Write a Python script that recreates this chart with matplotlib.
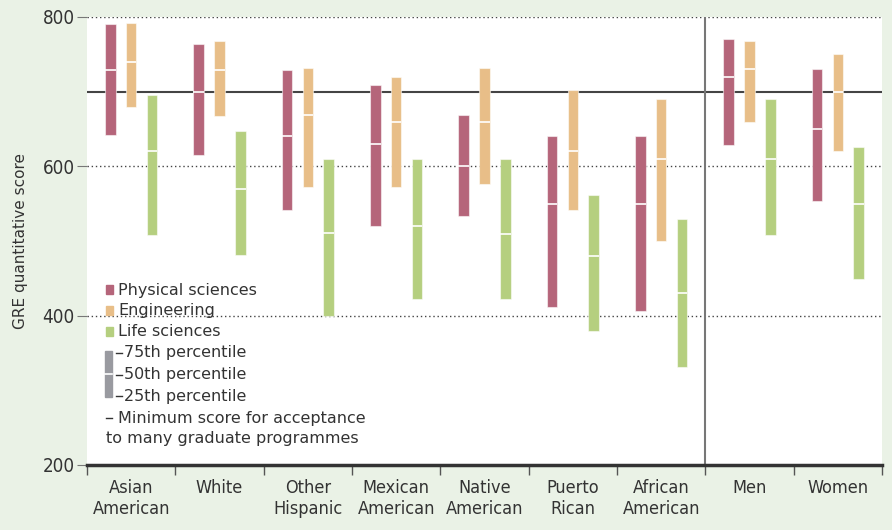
import matplotlib
matplotlib.use("Agg")
import matplotlib.pyplot as plt
from matplotlib import font_manager
from matplotlib.patches import Rectangle
import numpy as np

# Data (25th, 50th, 75th percentiles)
groups = ["Asian\nAmerican", "White", "Other\nHispanic", "Mexican\nAmerican",
          "Native\nAmerican", "Puerto\nRican", "African\nAmerican", "Men", "Women"]

phys_p25 = [642, 615, 541, 520, 533, 411, 406, 628, 553]
phys_p50 = [729, 700, 640, 630, 600, 550, 550, 720, 650]
phys_p75 = [790, 764, 729, 709, 669, 641, 641, 770, 730]

eng_p25 = [680, 667, 572, 572, 577, 541, 500, 660, 620]
eng_p50 = [740, 729, 669, 659, 660, 620, 610, 730, 700]
eng_p75 = [792, 768, 732, 720, 732, 702, 690, 768, 750]

life_p25 = [508, 481, 400, 422, 422, 379, 331, 508, 449]
life_p50 = [620, 570, 511, 520, 510, 480, 430, 610, 550]
life_p75 = [695, 647, 610, 610, 610, 561, 530, 690, 626]

min_score = 700

series = [
    ("Physical sciences", "#b5657a", phys_p25, phys_p50, phys_p75),
    ("Engineering", "#e8be88", eng_p25, eng_p50, eng_p75),
    ("Life sciences", "#b5cf7f", life_p25, life_p50, life_p75),
]

# look for an upright condensed face for the axis labels
narrow = None
cands = [f for f in font_manager.fontManager.ttflist
         if f.style == "normal" and f.weight in (400, "normal", "regular")
         and ("narrow" in f.name.lower() or "condensed" in f.name.lower()
              or f.stretch in ("condensed", "semi-condensed"))]
for pref in ["Liberation Sans Narrow", "DejaVu Sans Condensed"]:
    for f in cands:
        if f.name == pref:
            narrow = font_manager.FontProperties(fname=f.fname)
            break
    if narrow is not None:
        break
if narrow is None and cands:
    narrow = font_manager.FontProperties(fname=cands[0].fname)
if narrow is None:
    narrow = font_manager.FontProperties(family="DejaVu Sans")

text_col = "#333333"
bg = "#eaf2e6"

fig = plt.figure(figsize=(8.92, 5.30), dpi=100, facecolor=bg)
ax = fig.add_axes([87 / 892, 65 / 530, 795 / 892, 448 / 530])
ax.set_facecolor("white")

x = np.arange(len(groups))
offsets = [-0.235, 0.0, 0.235]
bw = 0.12

for (name, col, p25, p50, p75), off in zip(series, offsets):
    lo = np.array(p25)
    hi = np.array(p75)
    ax.bar(x + off, hi - lo, bottom=lo, width=bw, color=col,
           edgecolor=(1, 1, 1, 0.55), linewidth=0.8, zorder=3)
    ax.hlines(p50, x + off - bw / 2, x + off + bw / 2, color="white",
              linewidth=1.2, zorder=4)

# reference lines
ax.axhline(min_score, color="#444444", linewidth=1.5, zorder=2)
for yv in [400, 600, 800]:
    ax.axhline(yv, color="#444444", linewidth=1.0, linestyle=(0, (1, 2)), zorder=1)
ax.axvline(6.5, color="#777777", linewidth=1.5, zorder=2)

ax.set_xlim(-0.5, len(groups) - 0.5)
ax.set_ylim(200, 800)

for side in ["left", "right", "top"]:
    ax.spines[side].set_visible(False)
ax.spines["bottom"].set_linewidth(2.5)
ax.spines["bottom"].set_color("#333333")
ax.spines["bottom"].set_zorder(5)

ax.set_xticks(x)
ax.set_xticklabels(groups, color=text_col, linespacing=1.2)
for t in ax.get_xticklabels():
    t.set_fontproperties(narrow)
    t.set_fontsize(13)
ax.tick_params(axis="x", which="major", length=0, pad=10)
ax.set_xticks(np.arange(-0.5, len(groups), 1.0), minor=True)
ax.tick_params(axis="x", which="minor", length=7, width=1, color="#555555",
               direction="out")

ax.set_yticks([200, 400, 600, 800])
ax.set_yticklabels(["200", "400", "600", "800"], color=text_col)
for t in ax.get_yticklabels():
    t.set_fontproperties(narrow)
    t.set_fontsize(13.5)
ax.tick_params(axis="y", length=7, width=0.8, color="#777777", pad=2)
ax.set_ylabel("GRE quantitative score", fontsize=11, color=text_col, labelpad=10)

# legend drawn by hand in axes coordinates
def fx(px):
    return (px - 87) / 795


def fy(py):
    return (465 - py) / 448


leg_fs = 11.5
for i, (name, col, *_rest) in enumerate(series):
    yc = 290 + i * 21
    ax.add_patch(Rectangle((fx(106), fy(yc + 4)), 7 / 795, 9 / 448,
                           transform=ax.transAxes, color=col, zorder=6))
    ax.text(fx(118), fy(yc), name, transform=ax.transAxes, fontsize=leg_fs,
            color=text_col, va="center", ha="left", zorder=6)

ax.add_patch(Rectangle((fx(105), fy(397)), 7 / 795, 46 / 448,
                       transform=ax.transAxes, color="#999aa0", zorder=6))
ax.plot([fx(105), fx(112)], [fy(374), fy(374)], transform=ax.transAxes,
        color="white", linewidth=1.2, zorder=7)
for yc, lab in zip([353, 375, 396], ["75th percentile", "50th percentile", "25th percentile"]):
    ax.plot([fx(116), fx(122)], [fy(yc), fy(yc)], transform=ax.transAxes,
            color=text_col, linewidth=1, zorder=6)
    ax.text(fx(124), fy(yc), lab, transform=ax.transAxes, fontsize=leg_fs,
            color=text_col, va="center", ha="left", zorder=6)

ax.plot([fx(106), fx(112)], [fy(418), fy(418)], transform=ax.transAxes,
        color=text_col, linewidth=1, zorder=6)
ax.text(fx(118), fy(418), "Minimum score for acceptance", transform=ax.transAxes,
        fontsize=leg_fs, color=text_col, va="center", ha="left", zorder=6)
ax.text(fx(106), fy(439), "to many graduate programmes", transform=ax.transAxes,
        fontsize=leg_fs, color=text_col, va="center", ha="left", zorder=6)

fig.savefig("out.png", dpi=100, facecolor=bg)
